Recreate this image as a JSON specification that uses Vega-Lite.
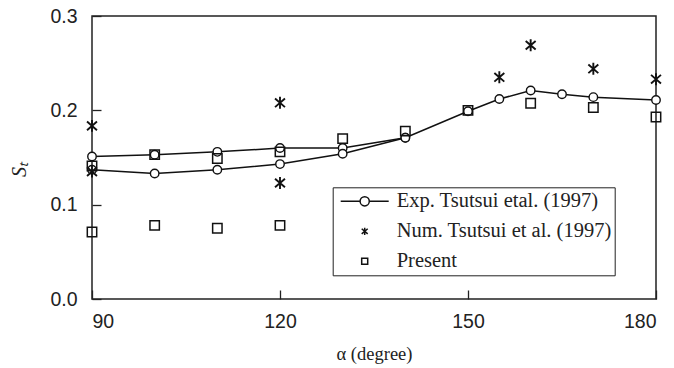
{
  "$schema": "https://vega.github.io/schema/vega-lite/v6.json",
  "width": 564,
  "height": 283,
  "autosize": "none",
  "padding": {"left": 92, "top": 16, "right": 18, "bottom": 69},
  "background": "white",
  "config": {
    "view": {"stroke": "#222", "strokeWidth": 1.5},
    "axis": {
      "domain": false,
      "grid": false,
      "labelFont": "Liberation Sans",
      "labelFontSize": 19.5,
      "labelColor": "#222",
      "tickColor": "#222",
      "tickWidth": 1.3,
      "tickSize": -9,
      "titleFont": "Liberation Serif",
      "titleFontWeight": "normal",
      "titleColor": "#222"
    },
    "legend": {
      "labelFont": "Liberation Serif",
      "labelFontSize": 20.5,
      "labelColor": "#222",
      "labelLimit": 500
    }
  },
  "data": {
    "values": [
      {"series": "Exp. Tsutsui etal. (1997)", "branch": "A", "alpha": 90, "St": 0.151},
      {"series": "Exp. Tsutsui etal. (1997)", "branch": "A", "alpha": 100, "St": 0.153},
      {"series": "Exp. Tsutsui etal. (1997)", "branch": "A", "alpha": 110, "St": 0.156},
      {"series": "Exp. Tsutsui etal. (1997)", "branch": "A", "alpha": 120, "St": 0.160},
      {"series": "Exp. Tsutsui etal. (1997)", "branch": "A", "alpha": 130, "St": 0.160},
      {"series": "Exp. Tsutsui etal. (1997)", "branch": "A", "alpha": 140, "St": 0.171},
      {"series": "Exp. Tsutsui etal. (1997)", "branch": "B", "alpha": 90, "St": 0.137},
      {"series": "Exp. Tsutsui etal. (1997)", "branch": "B", "alpha": 100, "St": 0.133},
      {"series": "Exp. Tsutsui etal. (1997)", "branch": "B", "alpha": 110, "St": 0.137},
      {"series": "Exp. Tsutsui etal. (1997)", "branch": "B", "alpha": 120, "St": 0.143},
      {"series": "Exp. Tsutsui etal. (1997)", "branch": "B", "alpha": 130, "St": 0.154},
      {"series": "Exp. Tsutsui etal. (1997)", "branch": "B", "alpha": 140, "St": 0.171},
      {"series": "Exp. Tsutsui etal. (1997)", "branch": "B", "alpha": 150, "St": 0.199},
      {"series": "Exp. Tsutsui etal. (1997)", "branch": "B", "alpha": 155, "St": 0.212},
      {"series": "Exp. Tsutsui etal. (1997)", "branch": "B", "alpha": 160, "St": 0.221},
      {"series": "Exp. Tsutsui etal. (1997)", "branch": "B", "alpha": 165, "St": 0.217},
      {"series": "Exp. Tsutsui etal. (1997)", "branch": "B", "alpha": 170, "St": 0.214},
      {"series": "Exp. Tsutsui etal. (1997)", "branch": "B", "alpha": 180, "St": 0.211},
      {"series": "Num. Tsutsui et al. (1997)", "branch": "N", "alpha": 90, "St": 0.1835},
      {"series": "Num. Tsutsui et al. (1997)", "branch": "N", "alpha": 90, "St": 0.135},
      {"series": "Num. Tsutsui et al. (1997)", "branch": "N", "alpha": 120, "St": 0.208},
      {"series": "Num. Tsutsui et al. (1997)", "branch": "N", "alpha": 120, "St": 0.123},
      {"series": "Num. Tsutsui et al. (1997)", "branch": "N", "alpha": 155, "St": 0.235},
      {"series": "Num. Tsutsui et al. (1997)", "branch": "N", "alpha": 160, "St": 0.269},
      {"series": "Num. Tsutsui et al. (1997)", "branch": "N", "alpha": 170, "St": 0.244},
      {"series": "Num. Tsutsui et al. (1997)", "branch": "N", "alpha": 180, "St": 0.233},
      {"series": "Present", "branch": "P", "alpha": 90, "St": 0.071},
      {"series": "Present", "branch": "P", "alpha": 90, "St": 0.141},
      {"series": "Present", "branch": "P", "alpha": 100, "St": 0.078},
      {"series": "Present", "branch": "P", "alpha": 100, "St": 0.153},
      {"series": "Present", "branch": "P", "alpha": 110, "St": 0.075},
      {"series": "Present", "branch": "P", "alpha": 110, "St": 0.149},
      {"series": "Present", "branch": "P", "alpha": 120, "St": 0.078},
      {"series": "Present", "branch": "P", "alpha": 120, "St": 0.156},
      {"series": "Present", "branch": "P", "alpha": 130, "St": 0.170},
      {"series": "Present", "branch": "P", "alpha": 140, "St": 0.178},
      {"series": "Present", "branch": "P", "alpha": 150, "St": 0.200},
      {"series": "Present", "branch": "P", "alpha": 160, "St": 0.2075},
      {"series": "Present", "branch": "P", "alpha": 170, "St": 0.203},
      {"series": "Present", "branch": "P", "alpha": 180, "St": 0.193}
    ]
  },
  "encoding": {
    "x": {
      "field": "alpha", "type": "quantitative",
      "scale": {"domain": [90, 180], "nice": false, "zero": false},
      "axis": {"values": [90, 120, 150, 180], "title": "α (degree)", "titleFontSize": 18.5, "labelPadding": 22, "titlePadding": 14}
    },
    "y": {
      "field": "St", "type": "quantitative",
      "scale": {"domain": [0, 0.3], "nice": false},
      "axis": {"values": [0, 0.1, 0.2, 0.3], "format": ".1f", "title": "Sₜ", "titleFontSize": 20, "titleFontStyle": "italic", "titleY": 153, "labelPadding": 24, "titlePadding": 20}
    }
  },
  "layer": [
    {
      "transform": [{"filter": "datum.branch === 'A' || datum.branch === 'B'"}],
      "mark": {"type": "line", "color": "#111", "strokeWidth": 1.5},
      "encoding": {"detail": {"field": "branch"}}
    },
    {
      "transform": [{"filter": "datum.branch === 'A' || datum.branch === 'B'"}],
      "mark": {"type": "point", "shape": "circle", "size": 72, "filled": true, "fill": "white", "stroke": "#111", "strokeWidth": 1.4, "opacity": 1}
    },
    {
      "transform": [{"filter": "datum.series === 'Num. Tsutsui et al. (1997)'"}],
      "mark": {"type": "point", "size": 1100, "filled": false, "stroke": "#111", "strokeWidth": 1.9, "opacity": 1},
      "encoding": {
        "shape": {
          "field": "series", "type": "nominal",
          "scale": {
            "domain": ["Exp. Tsutsui etal. (1997)", "Num. Tsutsui et al. (1997)", "Present"],
            "range": [
              "M-2.4,0L-0.46,0M0.46,0L2.4,0M-0.46,0A0.46,0.46 0 1,0 0.46,0A0.46,0.46 0 1,0 -0.46,0",
              "M0,-0.36L0,0.36M-0.3,-0.26L0.3,0.26M-0.3,0.26L0.3,-0.26",
              "M-0.3,-0.3L0.3,-0.3L0.3,0.3L-0.3,0.3Z"
            ]
          },
          "legend": {
            "title": null,
            "orient": "none",
            "legendX": 240.7,
            "legendY": 171.3,
            "symbolSize": 400,
            "symbolStrokeWidth": 1.5,
            "symbolStrokeColor": "#111",
            "symbolFillColor": "transparent",
            "symbolOffset": 18,
            "strokeColor": "#222",
            "fillColor": "white",
            "padding": 3,
            "labelOffset": 21,
            "rowPadding": 8,
            "labelExpr": "datum.label + '    '"
          }
        }
      }
    },
    {
      "transform": [{"filter": "datum.series === 'Present'"}],
      "mark": {"type": "point", "size": 980, "filled": false, "stroke": "#111", "strokeWidth": 1.5, "opacity": 1},
      "encoding": {
        "shape": {"field": "series", "type": "nominal"}
      }
    }
  ]
}
